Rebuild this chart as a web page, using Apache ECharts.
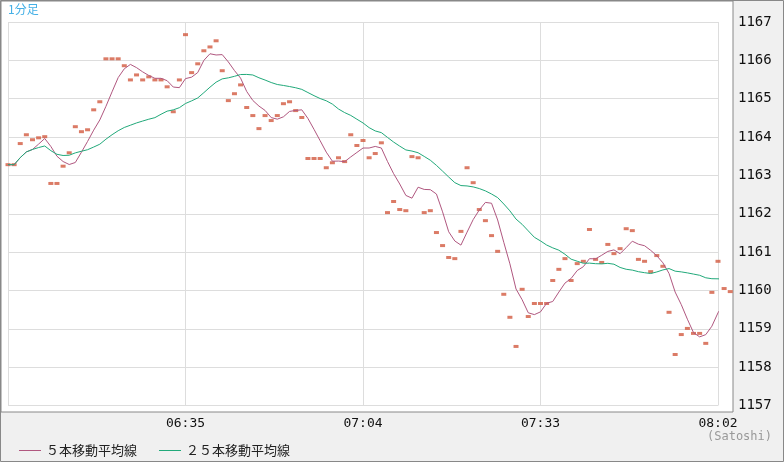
<!DOCTYPE html>
<html>
<head>
<meta charset="utf-8">
<script src="https://cdn.jsdelivr.net/npm/echarts@6/dist/echarts.min.js"></script>
<style>html,body{margin:0;padding:0;background:#f0f0f0}#chart{width:784px;height:462px}</style>
</head>
<body>
<div id="chart"></div>
<script>
// 1-minute bars starting at 06:06 (minute index 0)
var startMinute = 6 * 60 + 6;
var closes = [
  1163.28, 1163.28, 1163.83, 1164.06, 1163.93, 1163.98, 1164.01, 1162.79, 1162.79, 1163.24,
  1163.59, 1164.27, 1164.14, 1164.19, 1164.71, 1164.92, 1166.04, 1166.04, 1166.04, 1165.86,
  1165.49, 1165.62, 1165.49, 1165.57, 1165.49, 1165.49, 1165.31, 1164.66, 1165.49, 1166.67,
  1165.68, 1165.91, 1166.25, 1166.35, 1166.51, 1165.73, 1164.95, 1165.13, 1165.36, 1164.77,
  1164.56, 1164.22, 1164.56, 1164.43, 1164.56, 1164.87, 1164.92, 1164.69, 1164.51, 1163.44,
  1163.44, 1163.44, 1163.20, 1163.33, 1163.46, 1163.36, 1164.06, 1163.78, 1163.91, 1163.46,
  1163.57, 1163.85, 1162.03, 1162.32, 1162.11, 1162.08, 1163.49, 1163.46, 1162.03, 1162.08,
  1161.51, 1161.17, 1160.86, 1160.83, 1161.54, 1163.20, 1162.81, 1162.11, 1161.82, 1161.43,
  1161.02, 1159.90, 1159.30, 1158.54, 1160.03, 1159.32, 1159.66, 1159.66, 1159.66, 1160.26,
  1160.55, 1160.83, 1160.26, 1160.70, 1160.76, 1161.59, 1160.81, 1160.73, 1161.20, 1160.96,
  1161.09, 1161.61, 1161.56, 1160.81, 1160.76, 1160.49, 1160.91, 1160.63, 1159.43, 1158.33,
  1158.85, 1159.01, 1158.88, 1158.88, 1158.62, 1159.95, 1160.76, 1160.05, 1159.97
];
var maNames = ['５本移動平均線', '２５本移動平均線'];

function movingAverage(values, n) {
  return values.map(function (v, i) {
    var from = Math.max(0, i - n + 1), sum = 0;
    for (var k = from; k <= i; k++) sum += values[k];
    return sum / (i - from + 1);
  });
}
function pad(n) { return (n < 10 ? '0' : '') + n; }
function fmtTime(m) { return pad(Math.floor(m / 60)) + ':' + pad(m % 60); }

var bars = closes.map(function (v, i) { return [startMinute + i, v]; });
var ma5 = movingAverage(closes, 5).map(function (v, i) { return [startMinute + i, v]; });
var ma25 = movingAverage(closes, 25).map(function (v, i) { return [startMinute + i, v]; });

var chart = echarts.init(document.getElementById('chart'));
var font = '"DejaVu Sans Mono", monospace';

chart.setOption({
  backgroundColor: '#f0f0f0',
  animation: false,
  grid: { left: 8, right: 66, top: 22, bottom: 56.5 },
  graphic: [
    { type: 'rect', z: -10, shape: { x: 0.5, y: 0.5, width: 783, height: 461 },
      style: { fill: '#f0f0f0', stroke: '#888', lineWidth: 1 } },
    { type: 'rect', z: -9, shape: { x: 1, y: 1, width: 732, height: 411 },
      style: { fill: '#fff', stroke: '#888', lineWidth: 1 } },
    { type: 'text', left: 8, top: 3, z: 10,
      style: { text: '1分足', fill: '#45b0e6', font: '12px "Noto Sans CJK JP"' } },
    { type: 'text', right: 12, top: 431, z: 10,
      style: { text: '(Satoshi)', fill: '#999', font: '12px ' + font } }
  ],
  legend: {
    left: 14, top: 439, itemWidth: 22, itemHeight: 1, itemGap: 22, icon: 'rect',
    data: maNames,
    textStyle: { color: '#222', fontSize: 13, fontFamily: '"Noto Sans CJK JP"' }
  },
  xAxis: {
    type: 'value', min: startMinute, max: startMinute + 116, interval: 29,
    axisLine: { show: false }, axisTick: { show: false },
    splitLine: { show: true, lineStyle: { color: '#ddd', width: 1 } },
    axisLabel: {
      color: '#111', fontSize: 13, fontFamily: font, margin: 12,
      formatter: function (v) { return v === startMinute ? '' : fmtTime(v); }
    }
  },
  yAxis: {
    type: 'value', position: 'right', min: 1157, max: 1167, interval: 1,
    axisLine: { show: false }, axisTick: { show: false },
    splitLine: { show: true, lineStyle: { color: '#ddd', width: 1 } },
    axisLabel: { color: '#111', fontSize: 14, fontFamily: font, margin: 20,
      formatter: function (v) { return String(v); } }
  },
  series: [
    { type: 'scatter', data: bars, symbol: 'rect', symbolSize: [5, 3], clip: false,
      itemStyle: { color: '#d25a40' }, z: 3 },
    { name: maNames[0], type: 'line', data: ma5, showSymbol: false, clip: false,
      lineStyle: { color: '#b0577f', width: 1 }, itemStyle: { color: '#b0577f' }, z: 4 },
    { name: maNames[1], type: 'line', data: ma25, showSymbol: false, clip: false,
      lineStyle: { color: '#21a97a', width: 1 }, itemStyle: { color: '#21a97a' }, z: 4 }
  ]
});
</script>
</body>
</html>
